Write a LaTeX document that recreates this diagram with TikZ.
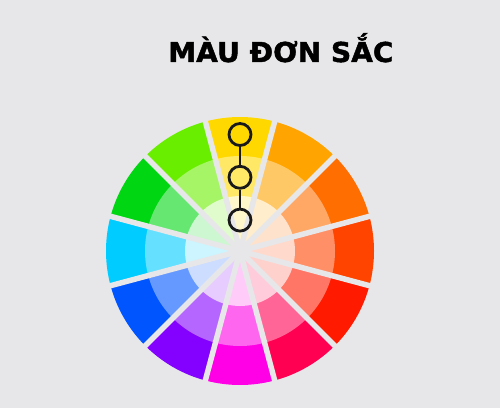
\documentclass[tikz,border=0pt]{standalone}
\usepackage{fontspec}
\font\titlefont="DejaVu Sans/B:embolden=1.6" at 27.4pt
\usetikzlibrary{positioning}
\definecolor{bg}{HTML}{E7E7E9}
\definecolor{cY}{HTML}{FFD800}
\definecolor{cO}{HTML}{FFA400}
\definecolor{cDO}{HTML}{FF6E00}
\definecolor{cRO}{HTML}{FF4400}
\definecolor{cR}{HTML}{FF1A00}
\definecolor{cCr}{HTML}{FF0052}
\definecolor{cM}{HTML}{FF00E6}
\definecolor{cV}{HTML}{8400FF}
\definecolor{cB}{HTML}{0055FF}
\definecolor{cC}{HTML}{00CCFF}
\definecolor{cG}{HTML}{00D612}
\definecolor{cL}{HTML}{6AEE00}
\begin{document}
\begin{tikzpicture}[x=1pt,y=1pt,
  spoke/.style={bg,line width=5.5pt},
  tone/.style={circle,draw=black!90,line width=2.8pt,minimum size=22pt,inner sep=0pt}]
\fill[bg] (0,0) rectangle (500,408);
\node (T) [anchor=base west,inner sep=0pt,xscale=1.025,transform shape] at (168,346) {\titlefont MÀU ĐƠN SẮC};
\coordinate (O) at (240,157);
% wheel: outer, middle and inner ring of each hue
\foreach \c [count=\i from 0] in {cY,cO,cDO,cRO,cR,cCr,cM,cV,cB,cC,cG,cL}{
  \pgfmathsetmacro\a{90-30*\i}
  \fill[\c] (O) -- ++(\a+15:134) arc[start angle=\a+15,end angle=\a-15,radius=134] -- cycle;
  \fill[\c!60!white] (O) -- ++(\a+15:95) arc[start angle=\a+15,end angle=\a-15,radius=95] -- cycle;
  \fill[\c!20!white] (O) -- ++(\a+15:55) arc[start angle=\a+15,end angle=\a-15,radius=55] -- cycle;
}
\foreach \a in {15,45,75,105,135,165}
  \draw[spoke] ([shift={(\a:140)}]O) -- ([shift={(\a+180:140)}]O);
\node (R1) [tone] at (240,273.5) {};
\node (R2) [tone,below=18pt of R1] {};
\node (R3) [tone,below=18pt of R2] {};
\draw[line width=1.6pt,black!90] (R1)--(R2) (R2)--(R3);
\end{tikzpicture}
\end{document}
